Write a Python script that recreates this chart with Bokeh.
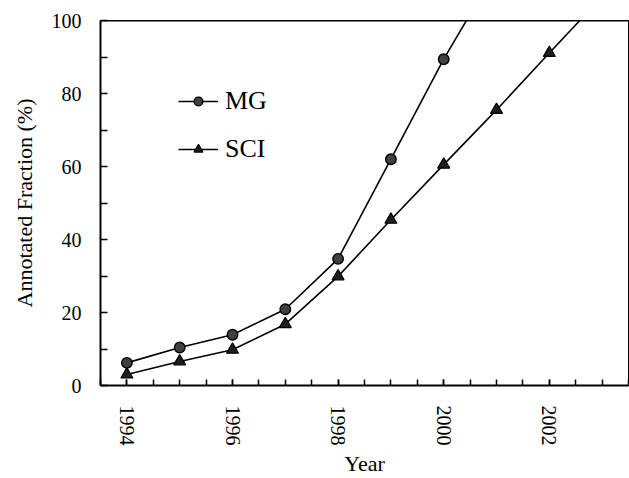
from bokeh.plotting import figure
from bokeh.models import FixedTicker, Legend, LegendItem, Span, Range1d
from bokeh.embed import file_html
from bokeh.resources import INLINE

# ---- data ----
mg_years = [1994, 1995, 1996, 1997, 1998, 1999, 2000, 2001]
mg_values = [6.2, 10.4, 13.9, 20.9, 34.7, 62.0, 89.4, 114.0]

sci_years = [1994, 1995, 1996, 1997, 1998, 1999, 2000, 2001, 2002, 2003]
sci_values = [3.0, 6.6, 9.8, 16.8, 29.9, 45.4, 60.5, 75.5, 91.1, 106.5]

x_tick_labels = [1994, 1996, 1998, 2000, 2002]
x_minor = [1993.5, 1994, 1994.5, 1995, 1995.5, 1996, 1996.5, 1997, 1997.5, 1998,
           1998.5, 1999, 1999.5, 2000, 2000.5, 2001, 2001.5, 2002, 2002.5, 2003, 2003.5]
y_tick_labels = [0, 20, 40, 60, 80, 100]
y_minor = [10, 30, 50, 70, 90]

FONT = "Liberation Serif"

p = figure(width=629, height=478,
           x_range=Range1d(1993.5, 2003.5), y_range=Range1d(0, 100),
           output_backend="svg", toolbar_location=None,
           min_border_left=100, min_border_right=1,
           min_border_top=20, min_border_bottom=93)

p.grid.visible = False
p.outline_line_color = "black"
p.outline_line_width = 1
p.background_fill_color = "white"
p.border_fill_color = "white"

p.xaxis.ticker = FixedTicker(ticks=x_tick_labels, minor_ticks=x_minor)
p.yaxis.ticker = FixedTicker(ticks=y_tick_labels, minor_ticks=y_minor)

for ax in (p.xaxis, p.yaxis):
    ax.axis_line_width = 2
    ax.axis_line_color = "black"
    ax.major_tick_out = 0
    ax.minor_tick_out = 0
    ax.major_tick_line_width = 1.5
    ax.minor_tick_line_width = 1.5
    ax.major_tick_line_color = "black"
    ax.minor_tick_line_color = "black"
    ax.major_label_text_font = FONT
    ax.major_label_text_font_size = "20px"
    ax.major_label_text_color = "black"
    ax.axis_label_text_font = FONT
    ax.axis_label_text_font_size = "22px"
    ax.axis_label_text_font_style = "normal"
    ax.axis_label_text_color = "black"

p.xaxis.major_tick_in = 6
p.xaxis.minor_tick_in = 6
p.yaxis.major_tick_in = 7
p.yaxis.minor_tick_in = 7

p.xaxis.major_label_orientation = "vertical"
p.xaxis.major_label_standoff = 20
p.xaxis.axis_label = "Year"
p.xaxis.axis_label_standoff = 2

p.yaxis.major_label_standoff = 19
p.yaxis.axis_label = "Annotated Fraction (%)"
p.yaxis.axis_label_standoff = 12

p.add_layout(Span(location=100, dimension="width", line_color="black", line_width=2))

l_mg = p.line(mg_years, mg_values, line_color="black", line_width=1.6)
s_mg = p.scatter(mg_years, mg_values, marker="circle", size=10.5,
                 fill_color="#404040", line_color="black", line_width=1.4)
l_sci = p.line(sci_years, sci_values, line_color="black", line_width=1.6)
s_sci = p.scatter(sci_years, sci_values, marker="triangle", size=12,
                  fill_color="#1e1e1e", line_color="black", line_width=1.2)

legend = Legend(items=[LegendItem(label="MG", renderers=[l_mg, s_mg]),
                       LegendItem(label="SCI", renderers=[l_sci, s_sci])],
                location=(78, 221))
legend.background_fill_alpha = 0
legend.border_line_color = None
legend.label_text_font = FONT
legend.label_text_font_size = "26px"
legend.label_text_color = "black"
legend.glyph_width = 40
legend.glyph_height = 22
legend.label_height = 30
legend.spacing = 18
legend.padding = 0
legend.margin = 0
legend.label_standoff = 7
p.add_layout(legend)

open("out.html", "w").write(file_html(p, INLINE))
